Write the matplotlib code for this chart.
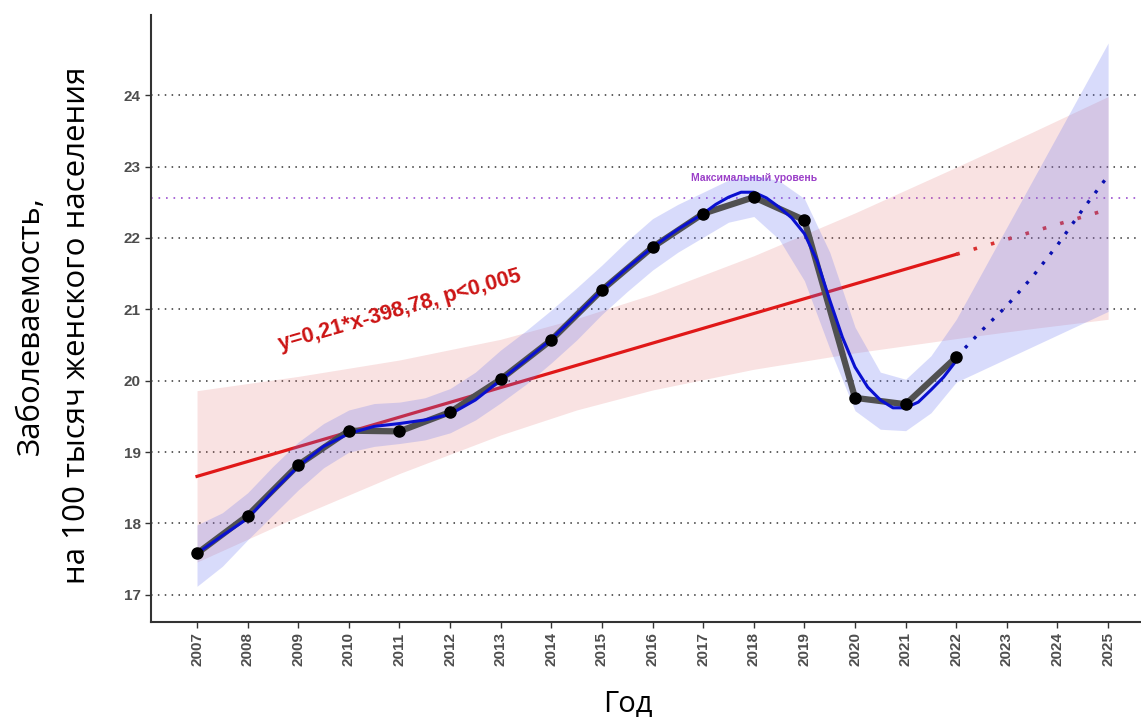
import numpy as np
import matplotlib
matplotlib.use("Agg")
import matplotlib.pyplot as plt

# observed incidence per 100k female population
years = [2007, 2008, 2009, 2010, 2011, 2012, 2013, 2014, 2015, 2016,
         2017, 2018, 2019, 2020, 2021, 2022]
values = [17.58, 18.11, 18.82, 19.30, 19.29, 19.56, 20.02, 20.57, 21.27, 21.87,
          22.34, 22.57, 22.25, 19.76, 19.67, 20.33]

# smoothed curve
smooth_x = [2007, 2007.5, 2008, 2008.5, 2009, 2009.5, 2010, 2010.5, 2011, 2011.5,
            2012, 2012.5, 2013, 2013.5, 2014, 2014.5, 2015, 2015.5, 2016, 2016.5,
            2017, 2017.25, 2017.5, 2017.75, 2018, 2018.25, 2018.5, 2018.75, 2019, 2019.25,
            2019.5, 2019.75, 2020, 2020.25, 2020.5, 2020.75, 2021, 2021.25, 2021.5, 2021.75,
            2022]
smooth_y = [17.58, 17.83, 18.07, 18.45, 18.80, 19.08, 19.26, 19.36, 19.40, 19.45,
            19.53, 19.73, 20.01, 20.29, 20.58, 20.92, 21.27, 21.58, 21.87, 22.12,
            22.34, 22.47, 22.57, 22.64, 22.64, 22.56, 22.43, 22.28, 22.06, 21.68,
            21.13, 20.61, 20.19, 19.91, 19.73, 19.62, 19.62, 19.70, 19.87, 20.05,
            20.28]

# confidence band of the smoothed curve incl. forecast part
band_x = [2007, 2007.5, 2008, 2008.5, 2009, 2009.5, 2010, 2010.5, 2011, 2011.5,
          2012, 2012.5, 2013, 2013.5, 2014, 2014.5, 2015, 2015.5, 2016, 2016.5,
          2017, 2017.5, 2018, 2018.5, 2019, 2019.5, 2020, 2020.5, 2021, 2021.5,
          2022, 2025]
band_hi = [17.98, 18.15, 18.43, 18.80, 19.14, 19.40, 19.59, 19.68, 19.70, 19.76,
           19.89, 20.12, 20.43, 20.70, 20.99, 21.30, 21.62, 21.96, 22.27, 22.47,
           22.64, 22.81, 22.88, 22.80, 22.55, 21.80, 20.75, 20.12, 20.02, 20.35,
           20.86, 24.73]
band_lo = [17.12, 17.40, 17.77, 18.12, 18.47, 18.78, 19.00, 19.08, 19.12, 19.17,
           19.27, 19.45, 19.69, 19.95, 20.25, 20.57, 20.93, 21.25, 21.55, 21.80,
           22.01, 22.22, 22.30, 21.98, 21.40, 20.45, 19.58, 19.32, 19.30, 19.55,
           19.98, 20.97]

# forecast of the smoothed curve
fc_x = [2022, 2022.5, 2023, 2023.5, 2024, 2024.5, 2025]
fc_y = [20.33, 20.70, 21.05, 21.45, 21.90, 22.40, 22.87]

# linear trend and its forecast
trend_x = [2007, 2022]
trend_y = [18.66, 21.77]
trend_fc_x = [2022, 2025]
trend_fc_y = [21.77, 22.40]

# confidence band of the linear trend
tband_x = [2007, 2009, 2011, 2013, 2014.5, 2016, 2018, 2020, 2022, 2023.5, 2025]
tband_hi = [19.86, 20.06, 20.29, 20.58, 20.87, 21.21, 21.75, 22.35, 22.99, 23.48, 23.98]
tband_lo = [17.46, 18.10, 18.70, 19.24, 19.59, 19.87, 20.16, 20.39, 20.59, 20.73, 20.86]

max_level = 22.56
xticks = list(range(2007, 2026))
yticks = list(range(17, 25))

fig = plt.figure(figsize=(11.41, 7.22), dpi=100)
ax = fig.add_axes([0.1323, 0.1385, 0.8677, 0.8405])

for yt in yticks:
    ax.axhline(yt, color='#333333', lw=1.1, ls=(0, (1, 3.5)), zorder=1)
ax.axhline(max_level, color='#9b4fd0', lw=1.2, ls=(0, (1, 3.5)), zorder=1)

ax.fill_between(tband_x, tband_lo, tband_hi, color='#e06060', alpha=0.18, lw=0, zorder=2)
ax.plot(trend_x, trend_y, color='#e01818', lw=2.3, zorder=3)
ax.plot(trend_fc_x, trend_fc_y, color='#d83030', lw=2.6, ls=(0, (1, 4)), zorder=3)

ax.fill_between(band_x, band_lo, band_hi, color='#6673f0', alpha=0.25, lw=0, zorder=4)
ax.plot(years, values, color='#505050', lw=4.5, solid_capstyle='round', zorder=5)
ax.plot(smooth_x, smooth_y, color='#0a10d0', lw=2.2, zorder=6)
ax.plot(fc_x, fc_y, color='#0a10b0', lw=2.4, ls=(0, (1, 2.8)), zorder=6)
ax.plot(years, values, 'o', color='black', ms=8, zorder=7)

ax.text(2018, 22.84, 'Максимальный уровень', color='#9b3fc8', fontsize=7.5,
        fontweight='bold', ha='center', va='center', family='Liberation Sans')
ax.text(2011.0, 20.98, 'y=0,21*x-398,78, p<0,005', color='#cc1414', fontsize=15.5,
        fontweight='bold', ha='center', va='center', rotation=16,
        family='Liberation Sans')

ax.set_xlim(2006.09, 2025.65)
ax.set_ylim(16.62, 25.12)
ax.set_xticks(xticks)
ax.set_xticklabels([str(x) for x in xticks], rotation=90)
ax.set_yticks(yticks)
for lab in ax.get_xticklabels() + ax.get_yticklabels():
    lab.set_fontweight('bold')
    lab.set_family('Liberation Sans')
    lab.set_fontsize(11)
    lab.set_color('#4d4d4d')
ax.tick_params(axis='both', color='#333333', length=4, width=1)

for s in ['top', 'right']:
    ax.spines[s].set_visible(False)
for s in ['left', 'bottom']:
    ax.spines[s].set_color('#333333')
    ax.spines[s].set_linewidth(1.5)

ax.set_ylabel('Заболеваемость,\nна 100 тысяч женского населения', fontsize=22.5,
              family='Open Sans', linespacing=1.7)
ax.yaxis.set_label_coords(-0.06, 0.489)
ax.set_xlabel('Год', fontsize=21, family='Open Sans')
ax.xaxis.set_label_coords(0.482, -0.112)

fig.savefig('out.png', dpi=100)
